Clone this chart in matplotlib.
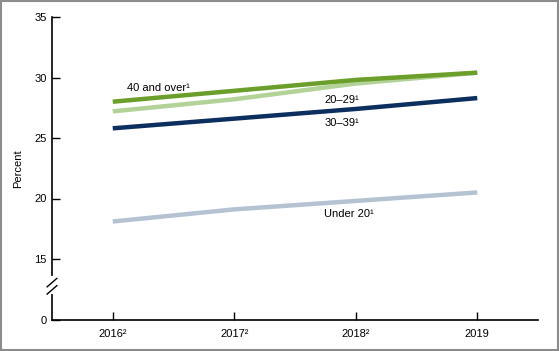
import matplotlib
matplotlib.use("Agg")
import matplotlib.pyplot as plt
from matplotlib.patches import Rectangle

plt.rcParams['font.family'] = ['Liberation Sans', 'DejaVu Sans']

years = [2016, 2017, 2018, 2019]
year_labels = ['2016²', '2017²', '2018²', '2019']
over40 = [28.0, 28.9, 29.8, 30.4]
age20_29 = [27.2, 28.2, 29.5, 30.4]
age30_39 = [25.8, 26.6, 27.4, 28.3]
under20 = [18.1, 19.1, 19.8, 20.5]
ytick_vals = [10, 15, 20, 25, 30, 35]
ytick_labels = ['0', '15', '20', '25', '30', '35']

fig = plt.figure(figsize=(5.6, 3.51), dpi=100)
ax = fig.add_axes([52/560, 1 - 319.5/351, (538-52)/560, (319.5-17)/351])

lw = 3.2
ax.plot(years, under20, color='#b4c2d1', lw=lw, solid_capstyle='butt')
ax.plot(years, age30_39, color='#0d2f5f', lw=lw, solid_capstyle='butt')
ax.plot(years, age20_29, color='#b3d298', lw=lw, solid_capstyle='butt')
ax.plot(years, over40, color='#6b9e2b', lw=lw, solid_capstyle='butt')

ax.set_xlim(2015.5, 2019.5)
ax.set_ylim(10, 35)
ax.set_xticks(years)
ax.set_xticklabels(year_labels, fontsize=8)
ax.set_yticks(ytick_vals)
ax.set_yticklabels(ytick_labels, fontsize=8)
ax.tick_params(axis='y', direction='in', length=6, width=1, color='black', pad=4)
ax.tick_params(axis='x', direction='in', length=6, width=1, color='black', pad=7)
for s in ['top', 'right']:
    ax.spines[s].set_visible(False)
for s in ['left', 'bottom']:
    ax.spines[s].set_linewidth(1.2)
ax.set_ylabel('Percent', fontsize=8)
ax.yaxis.set_label_coords(-0.06, 0.5)

# axis break marks
ax.plot([2015.5, 2015.5], [12.3, 13.4], color='white', lw=3, clip_on=False, zorder=5)
for yb in [13.05, 12.45]:
    ax.plot([2015.46, 2015.54], [yb - 0.35, yb + 0.35], color='black', lw=1, clip_on=False, zorder=6)

fs = 8
ax.text(2016.12, 28.75, '40 and over¹', fontsize=fs, va='bottom', ha='left')
ax.text(2017.74, 27.75, '20–29¹', fontsize=fs, va='bottom', ha='left')
ax.text(2017.74, 25.85, '30–39¹', fontsize=fs, va='bottom', ha='left')
ax.text(2017.74, 18.3, 'Under 20¹', fontsize=fs, va='bottom', ha='left')

fig.patches.append(Rectangle((0.002, 0.003), 0.995, 0.993, transform=fig.transFigure,
                             fill=False, edgecolor='#8c8c8c', lw=1.5))

fig.savefig('out.png', dpi=100)
